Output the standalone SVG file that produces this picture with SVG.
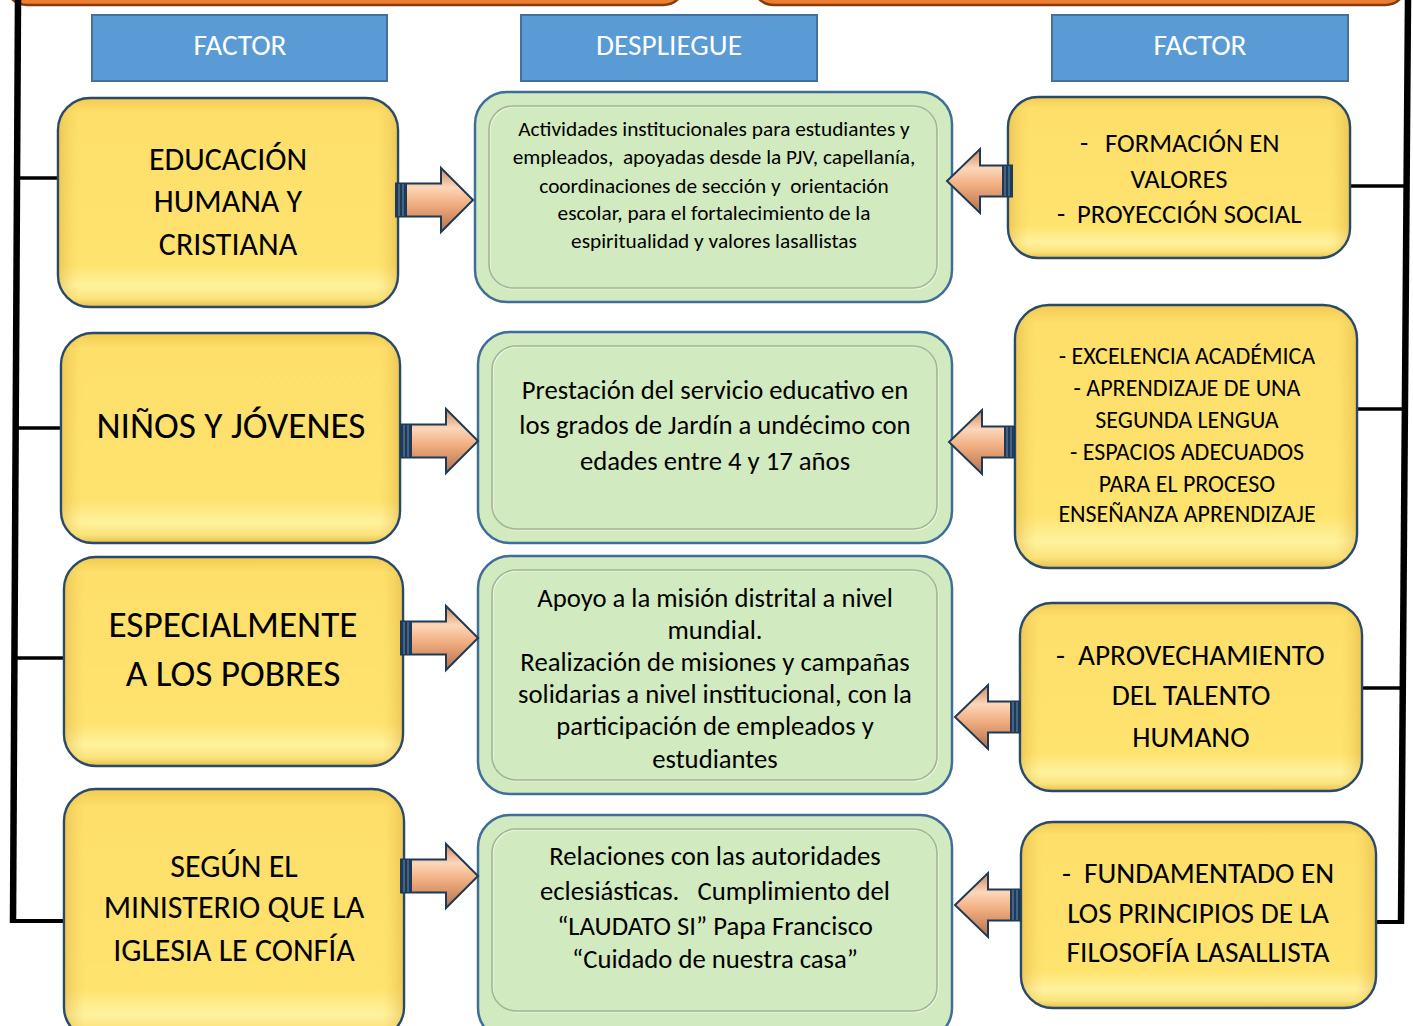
<svg xmlns="http://www.w3.org/2000/svg" width="1413" height="1026" viewBox="0 0 1413 1026">
<defs>
<style>
.hdr{fill:#5b9bd5;stroke:#41719c;stroke-width:2}
.hdrt{font-family:Carlito,Lato,"Open Sans",sans-serif;font-size:29.3px;fill:#ffffff;text-anchor:middle}
.yb{fill:url(#yg);stroke:#2a4a6a;stroke-width:2.5}
.ys{fill:url(#ys)}
.gb{fill:#d2eabf;stroke:#3f6e98;stroke-width:2.5}
.gi{fill:none;stroke:#a3b595;stroke-width:1.6}
.gw{fill:none;stroke:#eef7e6;stroke-width:1.2}
.t{font-family:Carlito,Lato,"Open Sans",sans-serif;fill:#000000;text-anchor:middle}
.ts{font-family:Carlito,Lato,"Open Sans",sans-serif;fill:#000000;text-anchor:start}
.arr{fill:url(#ag);stroke:#1f3a56;stroke-width:2;stroke-linejoin:miter}
.band{fill:#1f3a56}
.bl{stroke:#6d8cad;stroke-width:1}
.br{stroke:#000000;fill:none;stroke-linecap:butt}
.top{fill:#ed7d31;stroke:#843c0c;stroke-width:2.5}
</style>
<linearGradient id="yg" x1="0" y1="0" x2="0" y2="1">
<stop offset="0" stop-color="#f3cb52"/>
<stop offset="0.07" stop-color="#fddf6a"/>
<stop offset="0.8" stop-color="#ffe36f"/>
<stop offset="0.9" stop-color="#fff29e"/>
<stop offset="0.96" stop-color="#fbe37c"/>
<stop offset="1" stop-color="#e6bf4c"/>
</linearGradient>
<linearGradient id="ys" x1="0" y1="0" x2="1" y2="0">
<stop offset="0" stop-color="#d9a93c" stop-opacity="0.45"/>
<stop offset="0.06" stop-color="#f4cf5a" stop-opacity="0"/>
<stop offset="0.94" stop-color="#f4cf5a" stop-opacity="0"/>
<stop offset="1" stop-color="#d9a93c" stop-opacity="0.45"/>
</linearGradient>
<linearGradient id="ag" x1="0" y1="0" x2="0" y2="1">
<stop offset="0" stop-color="#d28858"/>
<stop offset="0.3" stop-color="#fcd7ba"/>
<stop offset="0.55" stop-color="#f3b083"/>
<stop offset="1" stop-color="#b4704a"/>
</linearGradient>
<g id="arL">
<path class="arr" d="M-77,-16.5 H-32 V-32 L0,0 L-32,32 V16.5 H-77 Z"/>
<rect class="band" x="-78" y="-16.5" width="12" height="33"/>
<line class="bl" x1="-74" y1="-16" x2="-74" y2="16"/>
<line class="bl" x1="-70" y1="-16" x2="-70" y2="16"/>
</g>
<g id="arR">
<path class="arr" d="M-65,-15.5 H-33 V-32 L0,0 L-33,32 V15.5 H-65 Z"/>
<rect class="band" x="-66" y="-15.5" width="11" height="31"/>
<line class="bl" x1="-62" y1="-15" x2="-62" y2="15"/>
<line class="bl" x1="-58" y1="-15" x2="-58" y2="15"/>
</g>
</defs>
<rect x="0" y="0" width="1413" height="1026" fill="#ffffff"/>

<g id="top-bars">
<rect class="top" x="5" y="-40" width="680" height="45" rx="22"/>
<rect class="top" x="752" y="-40" width="655" height="45" rx="22"/>
</g>

<g id="connectors">
<line class="br" x1="18" y1="-2" x2="13" y2="923" stroke-width="6.5"/>
<line class="br" x1="10" y1="921" x2="64" y2="921" stroke-width="4"/>
<line class="br" x1="16" y1="178" x2="59" y2="178" stroke-width="3.5"/>
<line class="br" x1="15" y1="428" x2="62" y2="428" stroke-width="3.5"/>
<line class="br" x1="14" y1="658" x2="65" y2="658" stroke-width="3.5"/>
<line class="br" x1="1408" y1="-2" x2="1401" y2="924" stroke-width="6.5"/>
<line class="br" x1="1349" y1="186" x2="1407" y2="186" stroke-width="3.5"/>
<line class="br" x1="1356" y1="409" x2="1405" y2="409" stroke-width="3.5"/>
<line class="br" x1="1361" y1="688" x2="1403" y2="688" stroke-width="3.5"/>
<line class="br" x1="1375" y1="922" x2="1404" y2="922" stroke-width="4"/>
</g>

<g id="header-factor-left">
<rect class="hdr" x="92" y="15" width="295" height="66"/>
<text class="hdrt" x="240" y="55">FACTOR</text>
</g>
<g id="header-despliegue">
<rect class="hdr" x="521" y="15" width="296" height="66"/>
<text class="hdrt" x="669" y="55">DESPLIEGUE</text>
</g>
<g id="header-factor-right">
<rect class="hdr" x="1052" y="15" width="296" height="66"/>
<text class="hdrt" x="1200" y="55">FACTOR</text>
</g>

<g id="left-1">
<rect class="yb" x="58" y="98" width="340" height="209" rx="32"/>
<rect class="ys" x="59" y="99" width="338" height="207" rx="31"/>
<text class="t" font-size="32"><tspan x="228" y="170">EDUCACIÓN</tspan><tspan x="228" y="212">HUMANA Y</tspan><tspan x="228" y="255">CRISTIANA</tspan></text>
</g>
<g id="left-2">
<rect class="yb" x="61" y="333" width="339" height="210" rx="32"/>
<rect class="ys" x="62" y="334" width="337" height="208" rx="31"/>
<text class="t" font-size="37.3" x="231" y="438">NIÑOS Y JÓVENES</text>
</g>
<g id="left-3">
<rect class="yb" x="64" y="557" width="339" height="209" rx="32"/>
<rect class="ys" x="65" y="558" width="337" height="207" rx="31"/>
<text class="t" font-size="37.3"><tspan x="233" y="637">ESPECIALMENTE</tspan><tspan x="233" y="686">A LOS POBRES</tspan></text>
</g>
<g id="left-4">
<rect class="yb" x="64" y="789" width="340" height="250" rx="32"/>
<rect class="ys" x="65" y="790" width="338" height="248" rx="31"/>
<text class="t" font-size="32"><tspan x="234" y="877">SEGÚN EL</tspan><tspan x="234" y="918">MINISTERIO QUE LA</tspan><tspan x="234" y="961">IGLESIA LE CONFÍA</tspan></text>
</g>

<g id="mid-1">
<rect class="gb" x="475" y="92" width="477" height="210" rx="32"/>
<rect class="gw" x="490" y="107" width="448" height="182" rx="24"/>
<rect class="gi" x="489" y="106" width="448" height="182" rx="24"/>
<text class="t" font-size="21.3" xml:space="preserve"><tspan x="714" y="136">Actividades institucionales para estudiantes y</tspan><tspan x="714" y="164">empleados,  apoyadas desde la PJV, capellanía,</tspan><tspan x="714" y="193">coordinaciones de sección y  orientación</tspan><tspan x="714" y="220">escolar, para el fortalecimiento de la</tspan><tspan x="714" y="248">espiritualidad y valores lasallistas</tspan></text>
</g>
<g id="mid-2">
<rect class="gb" x="478" y="332" width="474" height="211" rx="32"/>
<rect class="gw" x="493" y="347" width="445" height="183" rx="24"/>
<rect class="gi" x="492" y="346" width="445" height="183" rx="24"/>
<text class="t" font-size="26.7"><tspan x="715" y="399">Prestación del servicio educativo en</tspan><tspan x="715" y="434">los grados de Jardín a undécimo con</tspan><tspan x="715" y="470">edades entre 4 y 17 años</tspan></text>
</g>
<g id="mid-3">
<rect class="gb" x="478" y="556" width="474" height="238" rx="32"/>
<rect class="gw" x="493" y="571" width="445" height="210" rx="24"/>
<rect class="gi" x="492" y="570" width="445" height="210" rx="24"/>
<text class="t" font-size="26.7"><tspan x="715" y="607">Apoyo a la misión distrital a nivel</tspan><tspan x="715" y="639">mundial.</tspan><tspan x="715" y="671">Realización de misiones y campañas</tspan><tspan x="715" y="703">solidarias a nivel institucional, con la</tspan><tspan x="715" y="735">participación de empleados y</tspan><tspan x="715" y="768">estudiantes</tspan></text>
</g>
<g id="mid-4">
<rect class="gb" x="478" y="815" width="474" height="225" rx="32"/>
<rect class="gw" x="493" y="830" width="445" height="182" rx="24"/>
<rect class="gi" x="492" y="829" width="445" height="182" rx="24"/>
<text class="t" font-size="26.7" xml:space="preserve"><tspan x="715" y="865">Relaciones con las autoridades</tspan><tspan x="715" y="900">eclesiásticas.   Cumplimiento del</tspan><tspan x="715" y="935">“LAUDATO SI” Papa Francisco</tspan><tspan x="715" y="968">“Cuidado de nuestra casa”</tspan></text>
</g>

<g id="right-1">
<rect class="yb" x="1008" y="97" width="342" height="161" rx="30"/>
<rect class="ys" x="1009" y="98" width="340" height="159" rx="29"/>
<text class="ts" font-size="26.7"><tspan x="1080" y="152">-</tspan><tspan x="1105" y="152">FORMACIÓN EN</tspan></text>
<text class="t" font-size="26.7" x="1179" y="188">VALORES</text>
<text class="ts" font-size="26.7"><tspan x="1057" y="223">-</tspan><tspan x="1077" y="223">PROYECCIÓN SOCIAL</tspan></text>
</g>
<g id="right-2">
<rect class="yb" x="1015" y="305" width="342" height="263" rx="34"/>
<rect class="ys" x="1016" y="306" width="340" height="261" rx="33"/>
<text class="t" font-size="24"><tspan x="1187" y="364">- EXCELENCIA ACADÉMICA</tspan><tspan x="1187" y="396">- APRENDIZAJE DE UNA</tspan><tspan x="1187" y="428">SEGUNDA LENGUA</tspan><tspan x="1187" y="460">- ESPACIOS ADECUADOS</tspan><tspan x="1187" y="492">PARA EL PROCESO</tspan><tspan x="1187" y="522">ENSEÑANZA APRENDIZAJE</tspan></text>
</g>
<g id="right-3">
<rect class="yb" x="1020" y="603" width="342" height="188" rx="32"/>
<rect class="ys" x="1021" y="604" width="340" height="186" rx="31"/>
<text class="ts" font-size="29.3"><tspan x="1056" y="665">-</tspan><tspan x="1078" y="665">APROVECHAMIENTO</tspan></text>
<text class="t" font-size="29.3"><tspan x="1191" y="705">DEL TALENTO</tspan><tspan x="1191" y="747">HUMANO</tspan></text>
</g>
<g id="right-4">
<rect class="yb" x="1021" y="822" width="355" height="186" rx="32"/>
<rect class="ys" x="1022" y="823" width="353" height="184" rx="31"/>
<text class="ts" font-size="29.3"><tspan x="1062" y="883">-</tspan><tspan x="1084" y="883">FUNDAMENTADO EN</tspan></text>
<text class="t" font-size="29.3"><tspan x="1198" y="923">LOS PRINCIPIOS DE LA</tspan><tspan x="1198" y="962">FILOSOFÍA LASALLISTA</tspan></text>
</g>

<g id="arrows">
<use href="#arL" transform="translate(473,200)"/>
<use href="#arL" transform="translate(478,441)"/>
<use href="#arL" transform="translate(478,638)"/>
<use href="#arL" transform="translate(478,876)"/>
<use href="#arR" transform="translate(947,181) scale(-1,1)"/>
<use href="#arR" transform="translate(949,442) scale(-1,1)"/>
<use href="#arR" transform="translate(955,717) scale(-1,1)"/>
<use href="#arR" transform="translate(955,905) scale(-1,1)"/>
</g>
</svg>
